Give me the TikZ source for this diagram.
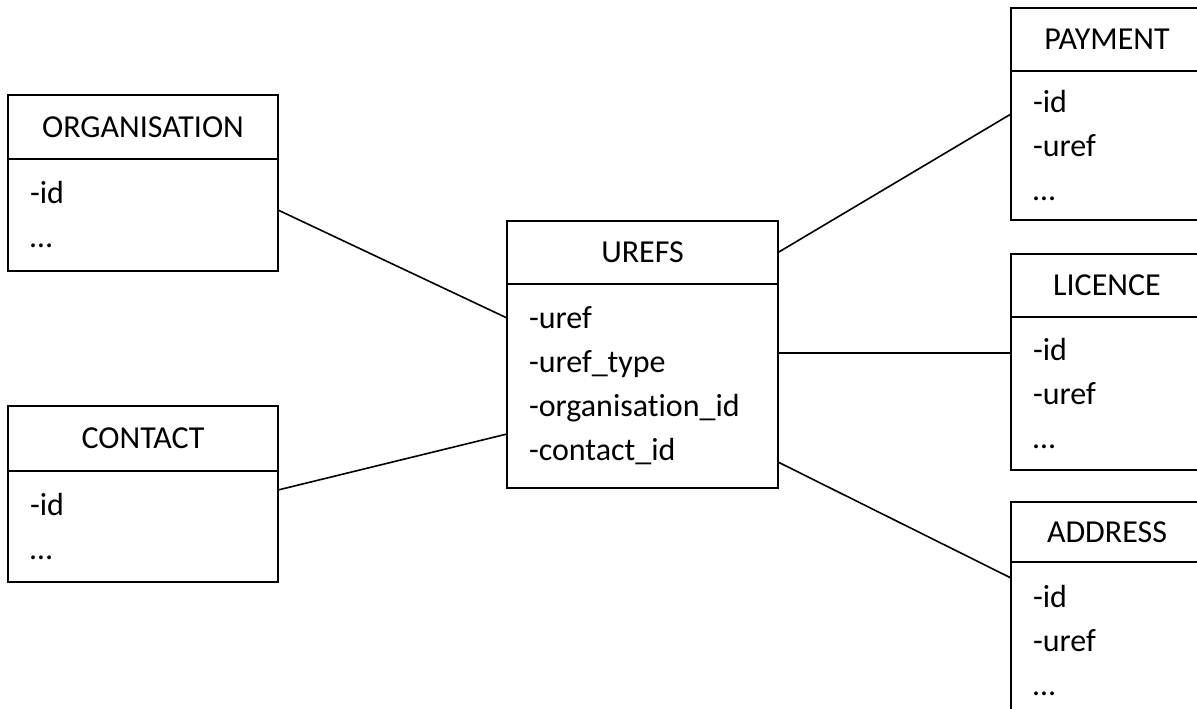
\documentclass[tikz,border=0pt]{standalone}
\usepackage{fontspec}
\setmainfont{Carlito}[Ligatures=NoCommon]
\begin{document}
\begin{tikzpicture}[x=1pt, y=-1pt,
    head/.style={draw, line width=2pt, outer sep=0pt, inner sep=0pt, font=\fontsize{32}{37}\selectfont},
    body/.style={draw, line width=2pt, outer sep=0pt, inner xsep=22pt, inner ysep=0pt, anchor=north, align=left, font=\fontsize{32}{44}\selectfont},
    link/.style={line width=1.6pt}]
    \useasboundingbox (0, 0) rectangle (1197, 709);
    \clip (0, 0) rectangle (1197, 709);
    \fill[white] (0, 0) rectangle (1197, 709);

    % left tables
    \node[head, minimum width=270pt, minimum height=64pt] (orgHead) at (143, 127) {ORGANISATION};
    \node[body, minimum width=270pt, minimum height=112pt, text width=226pt] (orgBody) at (orgHead.south) {-id\\…};

    \node[head, minimum width=270pt, minimum height=65pt] (contactHead) at (143, 438.5) {CONTACT};
    \node[body, minimum width=270pt, minimum height=111pt, text width=226pt] (contactBody) at (contactHead.south) {-id\\…};

    % link table
    \node[head, minimum width=271pt, minimum height=63pt] (urefsHead) at (642.5, 252.5) {UREFS};
    \node[body, minimum width=271pt, minimum height=204pt, text width=227pt] (urefsBody) at (urefsHead.south) {-uref\\-uref\_type\\-organisation\_id\\-contact\_id};

    % right tables
    \node[head, minimum width=192pt, minimum height=63pt] (paymentHead) at (1107, 39.5) {PAYMENT};
    \node[body, minimum width=192pt, minimum height=149pt, text width=148pt] (paymentBody) at (paymentHead.south) {-id\\-uref\\…};

    \node[head, minimum width=192pt, minimum height=63pt] (licenceHead) at (1107, 285.5) {LICENCE};
    \node[body, minimum width=192pt, minimum height=153pt, text width=148pt] (licenceBody) at (licenceHead.south) {-id\\-uref\\…};

    \node[head, minimum width=192pt, minimum height=60pt] (addressHead) at (1107, 532) {ADDRESS};
    \node[body, minimum width=192pt, minimum height=158pt, text width=148pt] (addressBody) at (addressHead.south) {-id\\-uref\\…};

    % connectors
    \draw[link] ([yshift=5pt]orgBody.east) -- ([yshift=-34pt]urefsBody.north west);
    \draw[link] ([yshift=-19pt]contactBody.north east) -- ([yshift=54pt]urefsBody.south west);
    \draw[link] (urefsHead.east) -- ([yshift=-43pt]paymentBody.north west);
    \draw[link] ([yshift=-69pt]urefsBody.north east) -- ([yshift=-36pt]licenceBody.north west);
    \draw[link] ([yshift=26pt]urefsBody.south east) -- ([yshift=-16pt]addressBody.north west);
\end{tikzpicture}
\end{document}
